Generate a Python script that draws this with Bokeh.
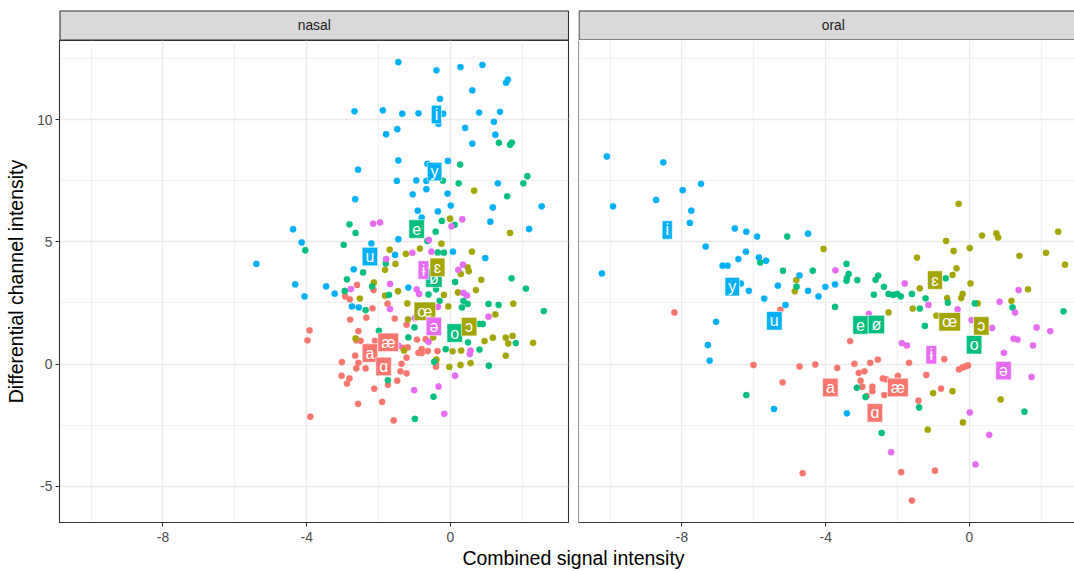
from bokeh.plotting import figure
from bokeh.layouts import row, column
from bokeh.models import FixedTicker, Span, Range1d
from bokeh.embed import file_html
from bokeh.resources import INLINE
from bokeh.core.properties import value

FONT = "Liberation Sans"

# ---------------- data ----------------
GROUPS = ["open", "open-mid", "close-mid", "close", "central"]
GROUP_COLORS = ["#F8766D", "#A3A500", "#00BF7D", "#00B0F6", "#E76BF3"]

PANELS = ["nasal", "oral"]

X_TICKS = [-8, -4, 0]
X_MINOR = [-10, -6, -2, 2]
Y_TICKS = [-5, 0, 5, 10]
Y_MINOR = [-2.5, 2.5, 7.5, 12.5]
X_TICK_LABELS = ["-8", "-4", "0"]
Y_TICK_LABELS = ["-5", "0", "5", "10"]

# nasal panel points
NASAL_OPEN_X = [-2.6, -2.14, -2.93, -2.8, -1.75, -2.17, -2.79, -2.34, -1.55, -1.22, -3.92, -3.98, -2.56, -2.62, -2.5,
                -2.1, -2.65, -3.02, -2.56, -2.62, -2.36, -3.03, -2.81, -2.88, -2.12, -1.9, -2.57, -3.9, -1.58, -1.48,
                -1.74, -1.39, -1.22, -1.36, -1.22, -1.32, -1.19, -0.93, -0.69, -0.8, -0.89, -0.8, -0.63, -0.36, -0.4,
                -0.4, -2.3, -1.6]
NASAL_OPEN_Y = [3.24, 3.03, 2.77, 2.65, 2.47, 2.28, 1.82, 1.9, 1.86, 1.61, 1.38, 0.97, 1.35, 0.97, 0.95,
                0.95, 0.34, 0.08, 0.05, -0.18, -0.18, -0.48, -0.59, -0.8, -1.01, -1.55, -1.63, -2.16, -2.31, -0.68,
                -0.85, -0.3, -0.38, 0.01, 0.26, 0.66, 0.68, 1.0, 1.02, 0.61, 0.46, 0.45, 0.53, 0.53, 0.01,
                -0.11, 0.7, 0.8]

NASAL_OPENMID_X = [0.66, -0.01, 1.66, -0.25, 0.6, -0.85, -1.24, -1.69, -1.53, -1.82, 0.48, 0.51, 0.29, 0.86, -2.13,
                   -2.52, -1.82, -1.46, -1.2, -0.18, -0.06, 0.21, 0.71, 1.25, 1.75, 2.3, 1.54, 1.61, 1.73, 1.18,
                   0.95, 1.54, 0.3, 0.06, 0.56, 0.28, -0.03, -0.39, -1.29, -1.18, -2.64, -0.48]
NASAL_OPENMID_Y = [7.1, 5.95, 5.37, 4.93, 4.6, 4.73, 4.51, 4.68, 4.1, 3.86, 3.96, 3.8, 3.69, 3.45, 3.34,
                   2.68, 2.8, 2.98, 2.48, 2.83, 2.36, 2.93, 3.03, 2.03, 2.47, 0.87, 1.08, 0.84, 1.15, 1.08,
                   0.94, 0.34, 0.55, 0.52, 0.04, -0.04, -0.12, 0.19, 0.55, 1.83, 1.05, 1.09]

NASAL_CLOSEMID_X = [1.35, 1.66, 1.71, 0.27, 2.14, 2.03, 0.23, -0.21, 1.58, -2.81, -2.64, -2.97, -4.04, -0.24, 0.12,
                    -0.41, -0.64, -0.35, -0.18, -1.8, -2.43, -2.88, 1.7, -2.94, -2.18, -2.36, -1.71, -0.61, -0.4, -0.3,
                    -0.46, 0.13, 2.1, 2.6, 1.06, 1.34, 0.36, 0.48, 0.32, -1.0, -1.17, -1.99, 0.8, 0.49, 0.81,
                    -0.13, 1.82, 1.07, -0.45, -1.74, -0.47, -0.99, 0.9]
NASAL_CLOSEMID_Y = [9.06, 8.98, 9.07, 8.17, 7.69, 7.4, 7.4, 7.51, 6.87, 5.72, 5.37, 4.88, 4.66, 5.86, 5.7,
                    5.42, 5.04, 4.57, 4.56, 4.12, 3.75, 3.47, 3.51, 2.99, 3.18, 2.21, 2.83, 2.85, 3.06, 2.59,
                    3.47, 3.36, 3.09, 2.17, 2.46, 2.42, 2.59, 2.46, 2.32, 1.5, 1.09, 1.36, 1.64, 0.89, 0.59,
                    0.61, 0.86, -0.07, 0.09, -0.66, -1.34, -2.25, 1.64]

NASAL_CLOSE_X = [-1.45, -0.39, 0.28, 0.89, 1.6, 1.55, 0.61, -0.29, -2.67, -1.88, -1.34, -0.89, -0.2, 0.8, 1.38,
                 1.21, 0.41, -1.48, -1.79, 1.25, 0.61, -1.45, -0.07, -0.64, -2.57, -1.49, -0.95, -0.67, 1.32, -1.05,
                 -0.67, -0.08, -2.65, 0.01, 1.18, 2.54, -0.91, -0.35, 1.11, 2.19, -4.38, -4.14, -1.45, 0.07, 0.97,
                 -1.54, -2.2, -2.69, -5.4, -4.32, -4.06, -3.46, -3.22, -2.74, -2.55, -1.17, -0.8, -0.33]
NASAL_CLOSE_Y = [12.36, 12.03, 12.16, 12.25, 11.65, 11.52, 11.21, 10.86, 10.35, 10.39, 10.25, 10.27, 10.25, 10.3, 10.33,
                 9.92, 9.67, 9.62, 9.41, 9.39, 9.03, 8.34, 8.32, 8.2, 7.96, 7.5, 7.52, 7.5, 7.4, 6.95,
                 7.16, 6.98, 6.75, 6.49, 6.41, 6.46, 6.28, 6.25, 5.83, 5.53, 5.52, 4.98, 5.11, 4.6, 4.34,
                 4.47, 4.94, 3.88, 4.1, 3.26, 2.77, 3.18, 2.88, 2.36, 2.32, 3.13, 6.0, 9.84]

NASAL_CENTRAL_X = [-2.15, -1.96, 0.33, 0.03, -0.6, -0.53, -1.79, 0.35, 0.22, -1.06, -1.68, -2.77, -0.94, -0.87, 0.36,
                   0.46, -1.68, -0.35, -0.99, 1.06, -0.61, 0.56, 0.54, -1.45, -1.01, -0.33, 0.13, -0.17]
NASAL_CENTRAL_Y = [5.75, 5.8, 5.93, 5.64, 5.08, 4.6, 4.3, 4.07, 3.86, 4.55, 3.28, 3.07, 3.06, 2.87, 2.91,
                   2.81, 2.25, 2.34, 1.88, 1.94, 0.91, 0.55, 0.41, 0.75, -1.07, -0.92, -0.48, -2.04]

# oral panel points
ORAL_OPEN_X = [-8.21, -5.26, -3.32, -6.01, -5.2, -4.73, -4.29, -3.68, -3.2, -2.76, -2.55, -3.08, -2.92, -3.03, -2.98,
               -2.7, -2.7, -2.86, -2.41, -2.31, -1.99, -2.37, -1.68, -1.2, -0.7, -0.79, -1.42, -0.29, -0.19, -0.11,
               -0.04, -4.64, -1.9, -0.96, -1.6]
ORAL_OPEN_Y = [2.11, 2.22, 0.94, -0.04, -0.75, -0.1, -0.02, -0.16, 0.01, 0.05, 0.18, -0.36, -0.3, -0.68, -0.93,
               -0.93, -1.11, -1.31, -0.59, -0.63, -0.49, -1.27, 0.05, -0.45, 0.2, -1.01, -1.5, -0.22, -0.14, -0.1,
               -0.06, -4.47, -4.43, -4.37, -5.59]

ORAL_OPENMID_X = [-4.06, -0.3, -1.46, -0.65, -0.44, 0.01, 0.35, 0.75, 0.8, 1.39, 2.13, 2.47, 2.66, -0.36, -0.47,
                  -4.82, -4.86, -1.38, 0.03, -0.62, -0.19, -0.23, -1.58, -2.25, -0.92, 0.23, 1.17, 1.63, -1.01, -0.47,
                  0.87, -1.16, -0.18]
ORAL_OPENMID_Y = [4.71, 6.56, 4.36, 5.04, 4.63, 4.75, 5.26, 5.35, 5.18, 4.43, 4.55, 5.42, 4.07, 3.92, 3.65,
                  3.44, 2.98, 3.1, 3.3, 2.7, 2.87, 2.7, 2.27, 2.11, 1.98, 2.48, 2.59, 3.06, -1.19, -1.11,
                  -1.45, -2.69, -2.39]

ORAL_CLOSEMID_X = [-5.07, -5.82, -5.19, -4.36, -3.42, -3.36, -0.66, -4.81, -3.41, -3.42, -3.12, -2.54, -2.61, -2.66, -2.38,
                   -2.25, -2.12, -2.01, -1.91, -1.6, -1.22, -1.38, -1.24, -0.6, 0.15, 1.2, 2.62, -3.74, -6.21, -3.13,
                   -2.89, -2.44, -1.4, 1.53]
ORAL_CLOSEMID_Y = [5.22, 4.16, 3.82, 3.82, 4.1, 3.69, 3.51, 3.17, 3.52, 3.41, 3.44, 3.62, 3.45, 2.84, 3.16,
                   2.87, 2.83, 2.87, 2.77, 2.87, 2.69, 2.27, 1.56, 2.51, 2.48, 2.32, 2.16, 2.34, -1.27, -0.97,
                   -1.35, -2.82, -1.78, -1.95]

ORAL_CLOSE_X = [-10.09, -8.52, -9.92, -8.72, -7.98, -7.47, -7.74, -7.78, -6.53, -6.21, -5.91, -4.49, -7.34, -6.22, -6.43,
                -6.87, -6.73, -5.86, -5.66, -10.23, -4.73, -5.33, -6.14, -4.49, -4.2, -4.01, -3.74, -5.71, -5.12, -7.05,
                -7.28, -7.23, -5.44, -3.41, -6.36]
ORAL_CLOSE_Y = [8.5, 8.26, 6.46, 6.72, 7.12, 7.38, 6.28, 5.78, 5.55, 5.42, 5.22, 5.34, 4.81, 4.6, 4.3,
                4.03, 4.03, 4.37, 4.23, 3.71, 3.63, 3.21, 3.0, 3.0, 2.77, 3.16, 3.26, 2.68, 2.42, 1.73,
                0.78, 0.14, -1.84, -2.02, 3.3]

ORAL_CENTRAL_X = [-3.73, -1.8, -1.14, -0.33, 0.06, 0.63, 0.84, 1.37, 1.27, 1.87, 2.25, 1.23, 1.34, 1.77, 0.96,
                  -1.88, -1.74, -2.8, 1.73, 0.01, 0.55, -2.18, 0.17]
ORAL_CENTRAL_Y = [3.84, 3.3, 2.42, 2.24, 1.8, 1.48, 2.55, 3.03, 2.11, 1.5, 1.35, 1.04, 1.0, 0.76, 0.46,
                  0.86, 0.76, 2.05, -0.53, -1.98, -2.9, -3.61, -4.11]

# vowel labels (group means)
LABEL_TEXT = ["a", "e", "i", "o", "u", "y", "æ", "ø", "œ", "ɑ", "ɔ", "ə", "ɛ", "ɨ"]
LABEL_GROUP = ["open", "close-mid", "close", "close-mid", "close", "close", "open", "close-mid",
               "open-mid", "open", "open-mid", "central", "open-mid", "central"]
NASAL_LABEL_X = [-2.24, -0.94, -0.39, 0.12, -2.24, -0.44, -1.73, -0.46, -0.71, -1.86, 0.52, -0.46, -0.36, -0.75]
NASAL_LABEL_Y = [0.45, 5.53, 10.22, 1.27, 4.4, 7.88, 0.89, 3.52, 2.16, -0.1, 1.53, 1.54, 3.96, 3.85]
ORAL_LABEL_X = [-3.87, -3.03, -8.41, 0.13, -5.43, -6.6, -1.99, -2.59, -0.55, -2.63, 0.33, 0.95, -0.96, -1.06]
ORAL_LABEL_Y = [-0.96, 1.6, 5.49, 0.79, 1.77, 3.17, -0.96, 1.62, 1.73, -2.0, 1.56, -0.27, 3.44, 0.38]

NASAL_POINTS = {
    "open": (NASAL_OPEN_X, NASAL_OPEN_Y),
    "open-mid": (NASAL_OPENMID_X, NASAL_OPENMID_Y),
    "close-mid": (NASAL_CLOSEMID_X, NASAL_CLOSEMID_Y),
    "close": (NASAL_CLOSE_X, NASAL_CLOSE_Y),
    "central": (NASAL_CENTRAL_X, NASAL_CENTRAL_Y),
}
ORAL_POINTS = {
    "open": (ORAL_OPEN_X, ORAL_OPEN_Y),
    "open-mid": (ORAL_OPENMID_X, ORAL_OPENMID_Y),
    "close-mid": (ORAL_CLOSEMID_X, ORAL_CLOSEMID_Y),
    "close": (ORAL_CLOSE_X, ORAL_CLOSE_Y),
    "central": (ORAL_CENTRAL_X, ORAL_CENTRAL_Y),
}

# ---------------- styling / layout ----------------
COLOR_OF = dict(zip(GROUPS, GROUP_COLORS))
X_START = -10.88
PX_PER_X = 35.93
Y_RANGE = (-6.49, 13.25)
LEFT_W, RIGHT_W = 578, 496
LEFT_MB_L, LEFT_MB_R = 59, 10
PANEL_H = 507
BOTTOM_BORDER = 25
STRIP_H = 40
TICK_FS = "13.8px"
TITLE_FS = "19.5px"
LABEL_FS = "16px"
# approximate Arial advance widths (per 1000 em) for label box sizing
CHAR_W = {"a": 556, "e": 556, "i": 222, "o": 556, "u": 556, "y": 500, "æ": 889, "ø": 611,
          "œ": 944, "ɑ": 556, "ɔ": 556, "ə": 556, "ɛ": 520, "ɨ": 260}


def make_panel(width, mbl, mbr, points, lab_x, lab_y, show_y):
    frame_w = width - mbl - mbr
    x_end = X_START + frame_w / PX_PER_X
    p = figure(width=width, height=PANEL_H, x_range=Range1d(X_START, x_end), y_range=Range1d(*Y_RANGE),
               toolbar_location=None, output_backend="svg",
               y_axis_location="left" if show_y else None,
               min_border_left=mbl, min_border_right=mbr, min_border_top=0, min_border_bottom=BOTTOM_BORDER)
    p.background_fill_color = "white"
    p.border_fill_color = "white"
    # grids
    p.xgrid.ticker = FixedTicker(ticks=X_TICKS, minor_ticks=X_MINOR)
    p.ygrid.ticker = FixedTicker(ticks=Y_TICKS, minor_ticks=Y_MINOR)
    for g in (p.xgrid, p.ygrid):
        g.grid_line_color = "#EBEBEB"
        g.grid_line_width = 1.3
        g.minor_grid_line_color = "#EBEBEB"
        g.minor_grid_line_width = 0.7
    # x axis
    xa = p.xaxis[0]
    xa.ticker = FixedTicker(ticks=X_TICKS, minor_ticks=X_MINOR)
    xa.major_label_overrides = {t: s for t, s in zip(X_TICKS, X_TICK_LABELS)}
    xa.axis_line_color = "#333333"
    xa.axis_line_width = 1.1
    xa.major_tick_line_color = "#333333"
    xa.major_tick_in = 0
    xa.major_tick_out = 4
    xa.minor_tick_line_color = None
    xa.major_label_standoff = 5
    xa.major_label_text_font = FONT
    xa.major_label_text_font_size = TICK_FS
    xa.major_label_text_color = "#4D4D4D"
    if show_y:
        ya = p.yaxis[0]
        ya.ticker = FixedTicker(ticks=Y_TICKS, minor_ticks=Y_MINOR)
        ya.major_label_overrides = {t: s for t, s in zip(Y_TICKS, Y_TICK_LABELS)}
        ya.axis_line_color = "#333333"
        ya.major_tick_line_color = "#333333"
        ya.major_tick_in = 0
        ya.major_tick_out = 4
        ya.minor_tick_line_color = None
        ya.major_label_standoff = 3
        ya.major_label_text_font = FONT
        ya.major_label_text_font_size = TICK_FS
        ya.major_label_text_color = "#4D4D4D"
        ya.axis_label = "Differential channel intensity"
        ya.axis_label_text_font = FONT
        ya.axis_label_text_font_size = TITLE_FS
        ya.axis_label_text_font_style = "normal"
        ya.axis_label_text_color = "black"
        ya.axis_label_standoff = 7
        p.outline_line_color = "#333333"
        p.outline_line_width = 1.1
    else:
        p.outline_line_color = None
        p.add_layout(Span(location=X_START, dimension="height", line_color="#333333", line_width=1.1))
    # points
    for grp in GROUPS:
        xs, ys = points[grp]
        p.scatter(xs, ys, size=6.3, fill_color=COLOR_OF[grp], line_color=COLOR_OF[grp], line_width=0.3)
    # labels
    for t, g, lx, ly in zip(LABEL_TEXT, LABEL_GROUP, lab_x, lab_y):
        w = CHAR_W.get(t, 556) * 16 / 1000 + 6.6
        p.rect([lx], [ly], width=w, height=18.5, width_units="screen", height_units="screen",
               fill_color=COLOR_OF[g], line_color="white", line_width=0.6)
        p.text([lx], [ly], text=[t], text_align="center", text_baseline="middle",
               text_color="white", text_font=value(FONT), text_font_size=LABEL_FS)
    return p


def make_strip(width, x0, box_l, box_r, label, cx):
    s = figure(width=width, height=STRIP_H, x_range=Range1d(x0, x0 + width), y_range=Range1d(STRIP_H, 0),
               toolbar_location=None, output_backend="svg", x_axis_location=None, y_axis_location=None,
               min_border_left=0, min_border_right=0, min_border_top=0, min_border_bottom=0)
    s.grid.visible = False
    s.outline_line_color = None
    s.background_fill_color = "white"
    s.border_fill_color = "white"
    s.quad(left=[box_l], right=[box_r], top=[10.5], bottom=[39.5],
           fill_color="#D9D9D9", line_color="#333333", line_width=1.1)
    s.text([cx], [25], text=[label], text_align="center", text_baseline="middle",
           text_color="#1A1A1A", text_font=value(FONT), text_font_size=TICK_FS)
    return s


left_frame_l = LEFT_MB_L + 0.5
left_frame_r = LEFT_W - LEFT_MB_R
strip_l = make_strip(LEFT_W, 0, left_frame_l, left_frame_r, PANELS[0], (left_frame_l + left_frame_r) / 2)
right_off = LEFT_W
strip_r = make_strip(RIGHT_W, right_off, right_off + 0.5, right_off + 520, PANELS[1],
                     right_off + (left_frame_r - left_frame_l) / 2 + 0.5)

panel_l = make_panel(LEFT_W, LEFT_MB_L, LEFT_MB_R, NASAL_POINTS, NASAL_LABEL_X, NASAL_LABEL_Y, True)
panel_r = make_panel(RIGHT_W, 0, 0, ORAL_POINTS, ORAL_LABEL_X, ORAL_LABEL_Y, False)

XLAB_H = 571 - STRIP_H - PANEL_H
xlab = figure(width=LEFT_W + RIGHT_W, height=XLAB_H, x_range=Range1d(0, LEFT_W + RIGHT_W), y_range=Range1d(XLAB_H, 0),
              toolbar_location=None, output_backend="svg", x_axis_location=None, y_axis_location=None,
              min_border_left=0, min_border_right=0, min_border_top=0, min_border_bottom=0)
xlab.grid.visible = False
xlab.outline_line_color = None
xlab.text([573], [XLAB_H / 2 - 2], text=["Combined signal intensity"], text_align="center", text_baseline="middle",
          text_color="black", text_font=value(FONT), text_font_size=TITLE_FS)

layout = column(row(strip_l, strip_r), row(panel_l, panel_r), xlab)

with open("out.html", "w") as f:
    f.write(file_html(layout, INLINE))
